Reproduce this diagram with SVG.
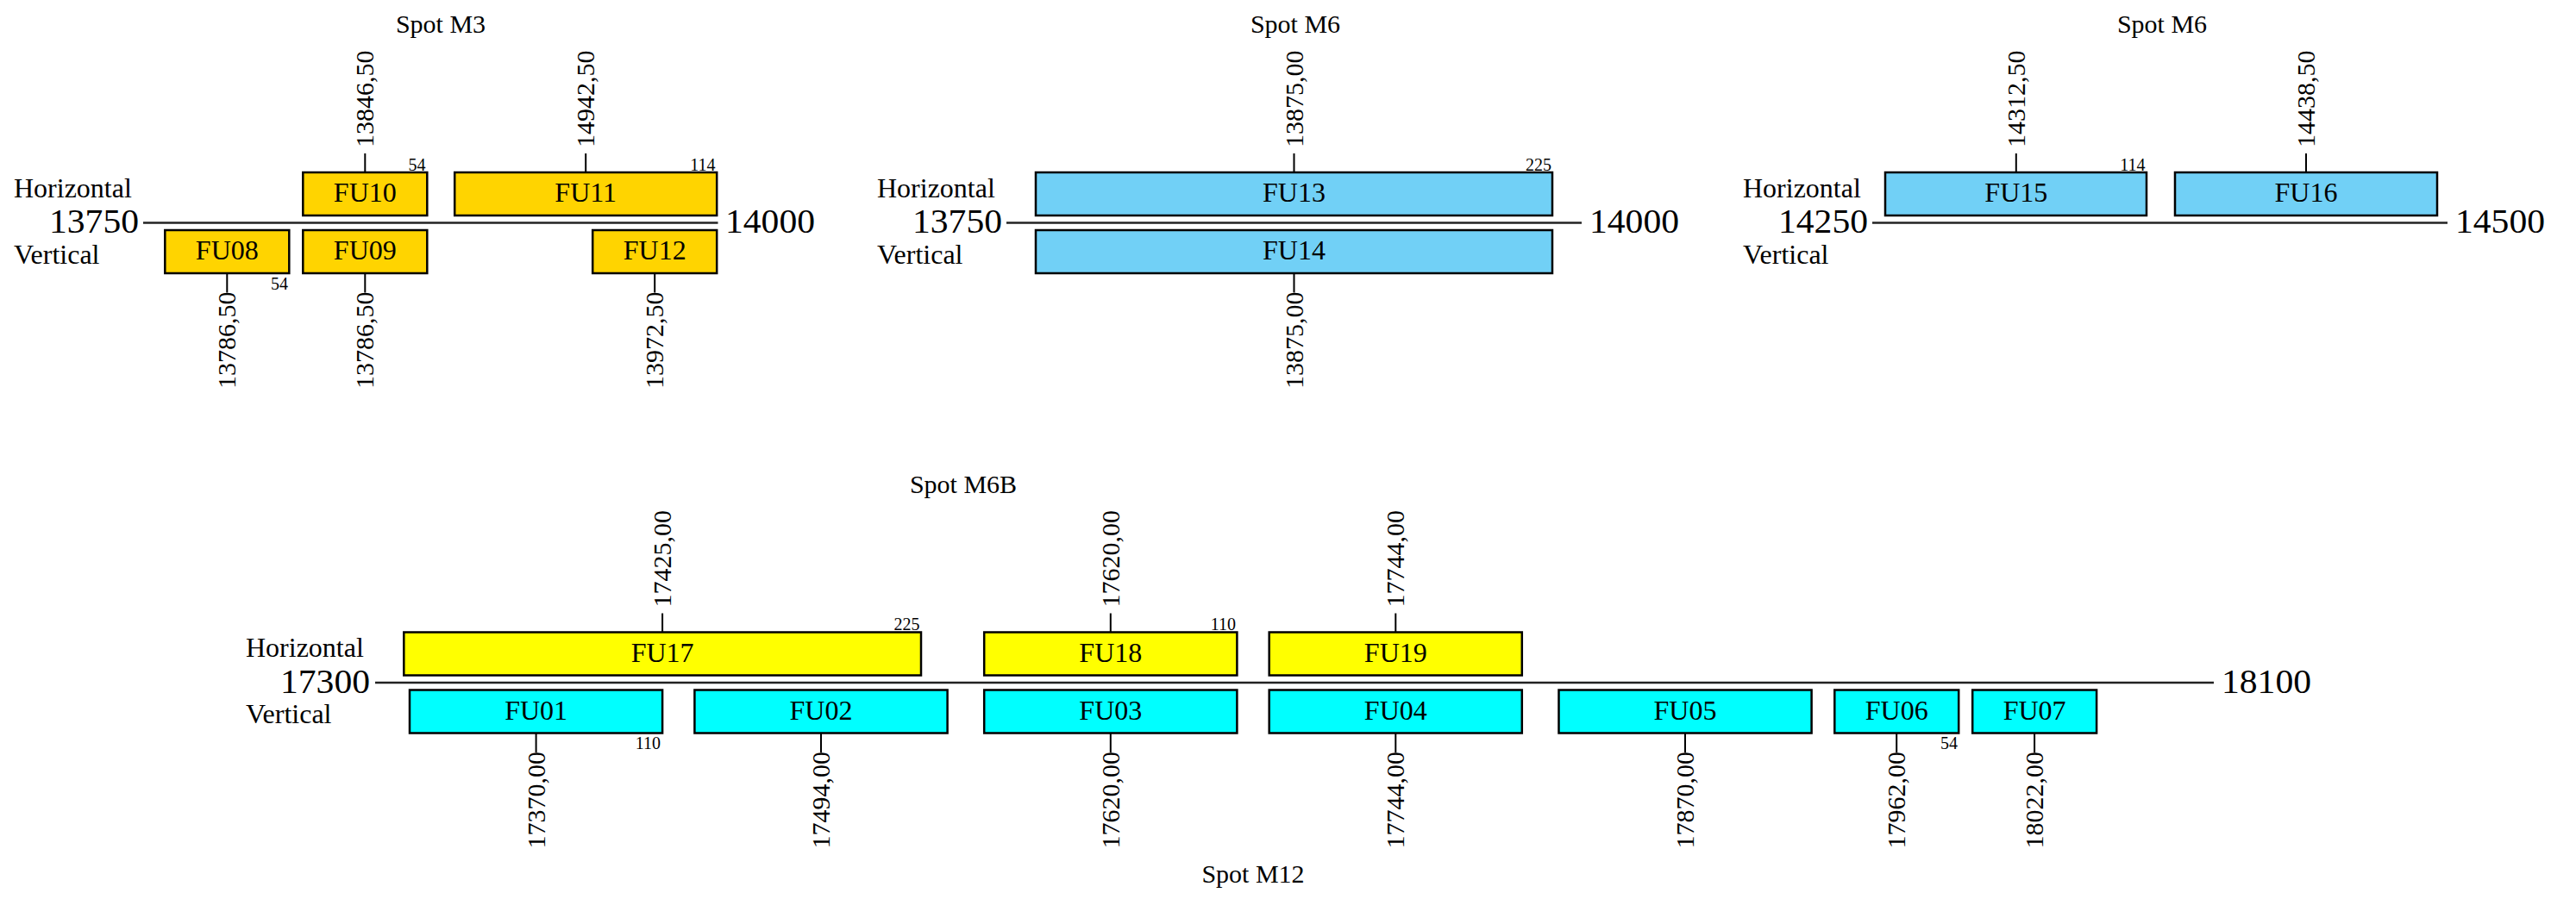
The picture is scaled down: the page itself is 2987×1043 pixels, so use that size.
<svg xmlns="http://www.w3.org/2000/svg" width="2987" height="1043" viewBox="0 0 2987 1043">
<style>
text { font-family: "Liberation Serif", "Times New Roman", serif; fill: #000; }
.title { font-size: 30px; text-anchor: middle; }
.side { font-size: 32px; }
.axl { font-size: 40px; }
.end { text-anchor: end; }
.lbl { font-size: 32px; text-anchor: middle; }
.sz { font-size: 20px; text-anchor: end; }
.val { font-size: 30px; }
.box { stroke: #000; stroke-width: 2.5; }
.gold { fill: #FFD400; }
.lblue { fill: #71D0F6; }
.yel { fill: #FFFF00; }
.cyan { fill: #00FFFF; }
.axis { stroke: #222; stroke-width: 2.5; fill: none; }
.tick { stroke: #000; stroke-width: 2; fill: none; }
</style>
<rect x="0" y="0" width="2987" height="1043" fill="#fff"/>

<!-- Section titles and side labels -->
<g id="labels">
  <text class="title" x="511" y="38">Spot M3</text>
  <text class="title" x="1502" y="38">Spot M6</text>
  <text class="title" x="2507" y="38">Spot M6</text>
  <text class="title" x="1117" y="572">Spot M6B</text>
  <text class="title" x="1453" y="1024">Spot M12</text>

  <text class="side" x="16" y="228.5">Horizontal</text>
  <text class="side" x="16" y="305.5">Vertical</text>
  <text class="axl end" x="161" y="270" textLength="104" lengthAdjust="spacingAndGlyphs">13750</text>
  <text class="axl" x="841" y="270" textLength="104" lengthAdjust="spacingAndGlyphs">14000</text>

  <text class="side" x="1017" y="228.5">Horizontal</text>
  <text class="side" x="1017" y="305.5">Vertical</text>
  <text class="axl end" x="1162" y="270" textLength="104" lengthAdjust="spacingAndGlyphs">13750</text>
  <text class="axl" x="1843" y="270" textLength="104" lengthAdjust="spacingAndGlyphs">14000</text>

  <text class="side" x="2021" y="228.5">Horizontal</text>
  <text class="side" x="2021" y="305.5">Vertical</text>
  <text class="axl end" x="2166" y="270" textLength="104" lengthAdjust="spacingAndGlyphs">14250</text>
  <text class="axl" x="2847" y="270" textLength="104" lengthAdjust="spacingAndGlyphs">14500</text>

  <text class="side" x="285" y="762">Horizontal</text>
  <text class="side" x="285" y="839">Vertical</text>
  <text class="axl end" x="429" y="804" textLength="104" lengthAdjust="spacingAndGlyphs">17300</text>
  <text class="axl" x="2576" y="804" textLength="104" lengthAdjust="spacingAndGlyphs">18100</text>
</g>

<!-- Connectors: axes and ticks -->
<g id="connectors">
  <line class="axis" x1="166" y1="258.5" x2="832.5" y2="258.5"/>
  <line class="axis" x1="1167" y1="258.5" x2="1834" y2="258.5"/>
  <line class="axis" x1="2171" y1="258.5" x2="2838" y2="258.5"/>
  <line class="axis" x1="435" y1="792" x2="2567" y2="792"/>

  <line class="tick" x1="423.3" y1="178" x2="423.3" y2="200"/>
  <line class="tick" x1="679.2" y1="178" x2="679.2" y2="200"/>
  <line class="tick" x1="263.3" y1="317" x2="263.3" y2="339.5"/>
  <line class="tick" x1="423.3" y1="317" x2="423.3" y2="339.5"/>
  <line class="tick" x1="759.2" y1="317" x2="759.2" y2="339.5"/>
  <line class="tick" x1="1500.5" y1="178" x2="1500.5" y2="200"/>
  <line class="tick" x1="1500.5" y1="317" x2="1500.5" y2="339.5"/>
  <line class="tick" x1="2337.8" y1="178" x2="2337.8" y2="200"/>
  <line class="tick" x1="2674" y1="178" x2="2674" y2="200"/>

  <line class="tick" x1="768.1" y1="711.5" x2="768.1" y2="733.5"/>
  <line class="tick" x1="1287.8" y1="711.5" x2="1287.8" y2="733.5"/>
  <line class="tick" x1="1618.3" y1="711.5" x2="1618.3" y2="733.5"/>
  <line class="tick" x1="621.6" y1="850.5" x2="621.6" y2="873"/>
  <line class="tick" x1="952" y1="850.5" x2="952" y2="873"/>
  <line class="tick" x1="1287.8" y1="850.5" x2="1287.8" y2="873"/>
  <line class="tick" x1="1618.3" y1="850.5" x2="1618.3" y2="873"/>
  <line class="tick" x1="1954" y1="850.5" x2="1954" y2="873"/>
  <line class="tick" x1="2199.2" y1="850.5" x2="2199.2" y2="873"/>
  <line class="tick" x1="2359.1" y1="850.5" x2="2359.1" y2="873"/>
</g>

<!-- Spot M3 -->
<g id="FU10">
  <rect class="box gold" x="351.3" y="200" width="144" height="50"/>
  <text class="lbl" x="423.3" y="234">FU10</text>
  <text class="sz" x="493.5" y="197.5">54</text>
  <text class="val" transform="translate(433.3,171) rotate(-90)">13846,50</text>
</g>
<g id="FU11">
  <rect class="box gold" x="527.2" y="200" width="304" height="50"/>
  <text class="lbl" x="679.2" y="234">FU11</text>
  <text class="sz" x="829.5" y="197.5">114</text>
  <text class="val" transform="translate(689.2,171) rotate(-90)">14942,50</text>
</g>
<g id="FU08">
  <rect class="box gold" x="191.3" y="267" width="144" height="50"/>
  <text class="lbl" x="263.3" y="301">FU08</text>
  <text class="sz" x="334" y="336">54</text>
  <text class="val" text-anchor="end" transform="translate(273.3,338.5) rotate(-90)">13786,50</text>
</g>
<g id="FU09">
  <rect class="box gold" x="351.3" y="267" width="144" height="50"/>
  <text class="lbl" x="423.3" y="301">FU09</text>
  <text class="val" text-anchor="end" transform="translate(433.3,338.5) rotate(-90)">13786,50</text>
</g>
<g id="FU12">
  <rect class="box gold" x="687.2" y="267" width="144" height="50"/>
  <text class="lbl" x="759.2" y="301">FU12</text>
  <text class="val" text-anchor="end" transform="translate(769.2,338.5) rotate(-90)">13972,50</text>
</g>

<!-- Spot M6 (middle) -->
<g id="FU13">
  <rect class="box lblue" x="1201" y="200" width="599" height="50"/>
  <text class="lbl" x="1500.5" y="234">FU13</text>
  <text class="sz" x="1799" y="197.5">225</text>
  <text class="val" transform="translate(1510.5,171) rotate(-90)">13875,00</text>
</g>
<g id="FU14">
  <rect class="box lblue" x="1201" y="267" width="599" height="50"/>
  <text class="lbl" x="1500.5" y="301">FU14</text>
  <text class="val" text-anchor="end" transform="translate(1510.5,338.5) rotate(-90)">13875,00</text>
</g>

<!-- Spot M6 (right) -->
<g id="FU15">
  <rect class="box lblue" x="2186" y="200" width="303" height="50"/>
  <text class="lbl" x="2337.8" y="234">FU15</text>
  <text class="sz" x="2487.5" y="197.5">114</text>
  <text class="val" transform="translate(2347.8,171) rotate(-90)">14312,50</text>
</g>
<g id="FU16">
  <rect class="box lblue" x="2522" y="200" width="304" height="50"/>
  <text class="lbl" x="2674" y="234">FU16</text>
  <text class="val" transform="translate(2684,171) rotate(-90)">14438,50</text>
</g>

<!-- Spot M6B / M12 -->
<g id="FU17">
  <rect class="box yel" x="468.3" y="733.5" width="599.7" height="50"/>
  <text class="lbl" x="768.1" y="767.5">FU17</text>
  <text class="sz" x="1066.5" y="731">225</text>
  <text class="val" transform="translate(778.1,704.5) rotate(-90)">17425,00</text>
</g>
<g id="FU18">
  <rect class="box yel" x="1141.2" y="733.5" width="293.2" height="50"/>
  <text class="lbl" x="1287.8" y="767.5">FU18</text>
  <text class="sz" x="1433" y="731">110</text>
  <text class="val" transform="translate(1297.8,704.5) rotate(-90)">17620,00</text>
</g>
<g id="FU19">
  <rect class="box yel" x="1471.7" y="733.5" width="293.1" height="50"/>
  <text class="lbl" x="1618.3" y="767.5">FU19</text>
  <text class="val" transform="translate(1628.3,704.5) rotate(-90)">17744,00</text>
</g>
<g id="FU01">
  <rect class="box cyan" x="475" y="800.5" width="293.1" height="50"/>
  <text class="lbl" x="621.6" y="834.5">FU01</text>
  <text class="sz" x="766" y="868.5">110</text>
  <text class="val" text-anchor="end" transform="translate(631.6,872) rotate(-90)">17370,00</text>
</g>
<g id="FU02">
  <rect class="box cyan" x="805.4" y="800.5" width="293.2" height="50"/>
  <text class="lbl" x="952" y="834.5">FU02</text>
  <text class="val" text-anchor="end" transform="translate(962,872) rotate(-90)">17494,00</text>
</g>
<g id="FU03">
  <rect class="box cyan" x="1141.2" y="800.5" width="293.2" height="50"/>
  <text class="lbl" x="1287.8" y="834.5">FU03</text>
  <text class="val" text-anchor="end" transform="translate(1297.8,872) rotate(-90)">17620,00</text>
</g>
<g id="FU04">
  <rect class="box cyan" x="1471.7" y="800.5" width="293.1" height="50"/>
  <text class="lbl" x="1618.3" y="834.5">FU04</text>
  <text class="val" text-anchor="end" transform="translate(1628.3,872) rotate(-90)">17744,00</text>
</g>
<g id="FU05">
  <rect class="box cyan" x="1807.5" y="800.5" width="293.1" height="50"/>
  <text class="lbl" x="1954" y="834.5">FU05</text>
  <text class="val" text-anchor="end" transform="translate(1964,872) rotate(-90)">17870,00</text>
</g>
<g id="FU06">
  <rect class="box cyan" x="2127.3" y="800.5" width="143.9" height="50"/>
  <text class="lbl" x="2199.2" y="834.5">FU06</text>
  <text class="sz" x="2270" y="868.5">54</text>
  <text class="val" text-anchor="end" transform="translate(2209.2,872) rotate(-90)">17962,00</text>
</g>
<g id="FU07">
  <rect class="box cyan" x="2287.2" y="800.5" width="143.9" height="50"/>
  <text class="lbl" x="2359.1" y="834.5">FU07</text>
  <text class="val" text-anchor="end" transform="translate(2369.1,872) rotate(-90)">18022,00</text>
</g>
</svg>
